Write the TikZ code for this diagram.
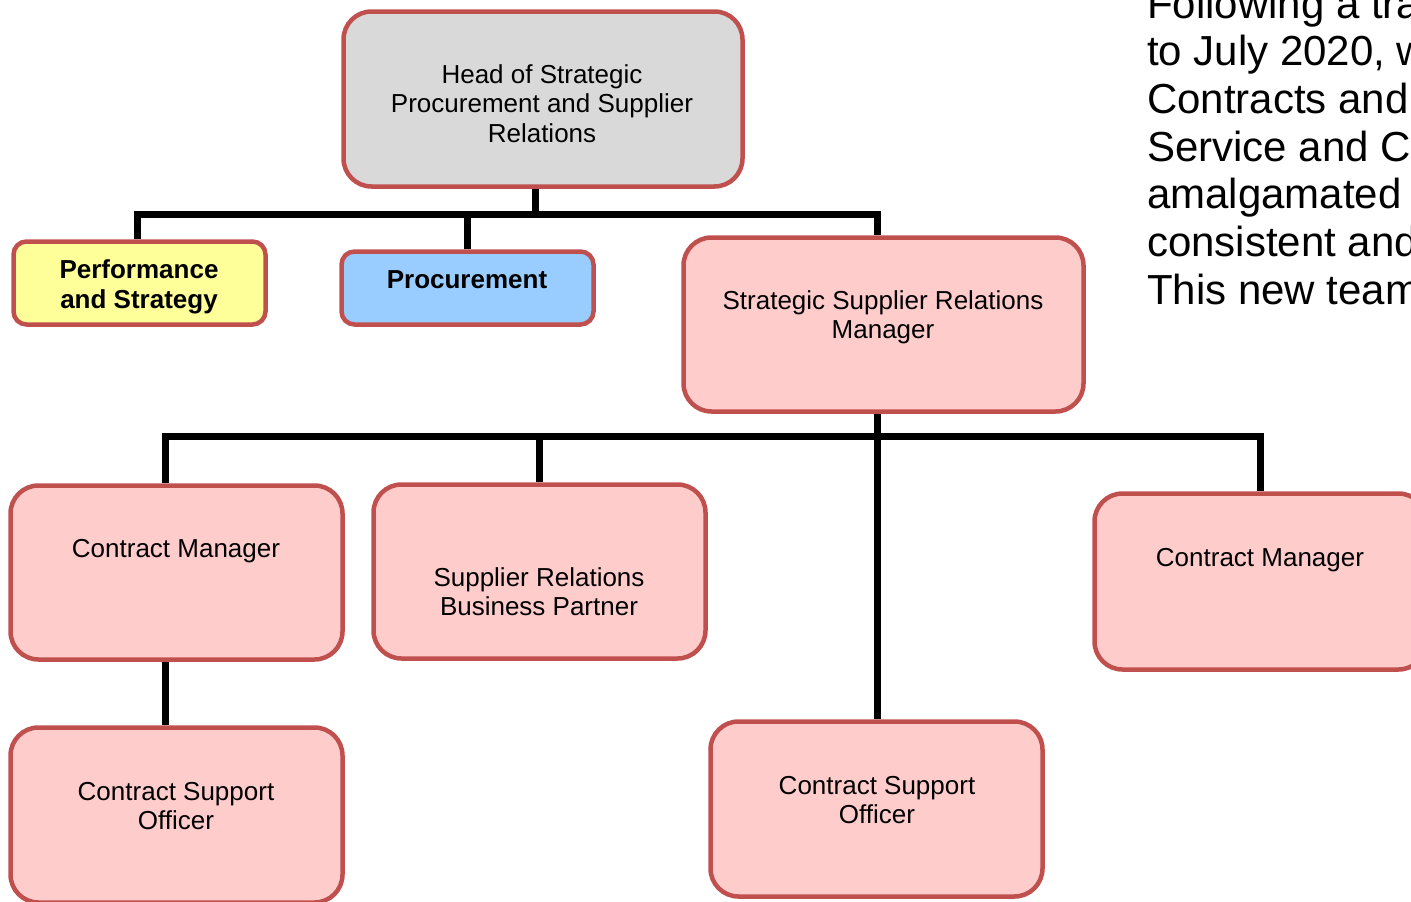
\documentclass[tikz,border=0pt]{standalone}
\usepackage{fontspec}
\setmainfont{Liberation Sans}
\usetikzlibrary{backgrounds}
\definecolor{bordred}{HTML}{C0504D}
\definecolor{headgray}{HTML}{D9D9D9}
\definecolor{perfyel}{HTML}{FFFF99}
\definecolor{procblue}{HTML}{99CCFF}
\definecolor{rolepink}{HTML}{FFCCCC}
\tikzset{
  box/.style={draw=bordred, line width=4.5pt, rounded corners=28pt, inner sep=0pt},
  smallbox/.style={box, rounded corners=13pt},
  lbl/.style={anchor=base, align=center, inner sep=0pt, font=\fontsize{26}{29.5}\selectfont},
  blbl/.style={lbl, font=\fontsize{26}{30}\selectfont\bfseries},
  conn/.style={line width=7pt, black},
  side/.style={anchor=base west, inner sep=0pt, font=\fontsize{42}{47.7}\selectfont}
}
\begin{document}
\begin{tikzpicture}[x=1pt,y=-1pt]
\useasboundingbox (0,0) rectangle (1411,902);
\clip (0,0) rectangle (1411,902);
% boxes
\node[box, fill=headgray, minimum width=399pt, minimum height=175pt] (head) at (543,99) {};
\node[smallbox, fill=perfyel, minimum width=252pt, minimum height=83pt] (perf) at (139.5,283) {};
\node[smallbox, fill=procblue, minimum width=252pt, minimum height=73pt] (proc) at (467.5,288) {};
\node[box, fill=rolepink, minimum width=400pt, minimum height=174pt] (ssrm) at (883.5,324.5) {};
\node[box, fill=rolepink, minimum width=332pt, minimum height=174pt] (cml) at (176.5,572.5) {};
\node[box, fill=rolepink, minimum width=332pt, minimum height=174pt] (srbp) at (539.5,571.5) {};
\node[box, fill=rolepink, minimum width=332pt, minimum height=176pt] (cmr) at (1260.5,581.5) {};
\node[box, fill=rolepink, minimum width=332pt, minimum height=175pt] (csol) at (176.5,815) {};
\node[box, fill=rolepink, minimum width=332pt, minimum height=175pt] (csoc) at (876.5,809) {};
% labels (base = last line's baseline)
\node[lbl] (thead) at (542,142) {Head of Strategic\\Procurement and Supplier\\Relations};
\node[blbl] (tperf) at (139,308.5) {Performance\\and Strategy};
\node[blbl] (tproc) at (467,288.5) {Procurement};
\node[lbl] (tssrm) at (883,338.5) {Strategic Supplier Relations\\Manager};
\node[lbl] (tcml) at (176,557.5) {Contract Manager};
\node[lbl] (tsrbp) at (539,615.5) {Supplier Relations\\Business Partner};
\node[lbl] (tcmr) at (1260,566.5) {Contract Manager};
\node[lbl] (tcsol) at (176,829.5) {Contract Support\\Officer};
\node[lbl] (tcsoc) at (877,823.5) {Contract Support\\Officer};
% side text
\node[side] (s1) at (1147,18) {Following a transformation};
\node[side] (s2) at (1147,65.7) {to July 2020, we};
\node[side] (s3) at (1147,113.4) {Contracts and};
\node[side] (s4) at (1147,161.1) {Service and Contracts};
\node[side] (s5) at (1147,208.8) {amalgamated into};
\node[side] (s6) at (1147,256.5) {consistent and};
\node[side] (s7) at (1147,304.2) {This new team};
% connectors
\begin{scope}[on background layer]
\coordinate (j1) at (535,214);
\coordinate (j2) at (877,436);
\draw[conn] (head.south -| j1) -- (j1);
\draw[conn] (perf.north -| 137,0) -- (137,214) -- (877,214) -- (ssrm.north -| 877,0);
\draw[conn] (proc.north -| 467,0) -- (467,214);
\draw[conn] (cml.north -| 165,0) -- (165,436) -- (1260,436) -- (cmr.north -| 1260,0);
\draw[conn] (srbp.north -| 539,0) -- (539,436);
\draw[conn] (ssrm.south -| j2) -- (csoc.north -| j2);
\draw[conn] (cml.south -| 165,0) -- (csol.north -| 165,0);
\end{scope}
\end{tikzpicture}
\end{document}
